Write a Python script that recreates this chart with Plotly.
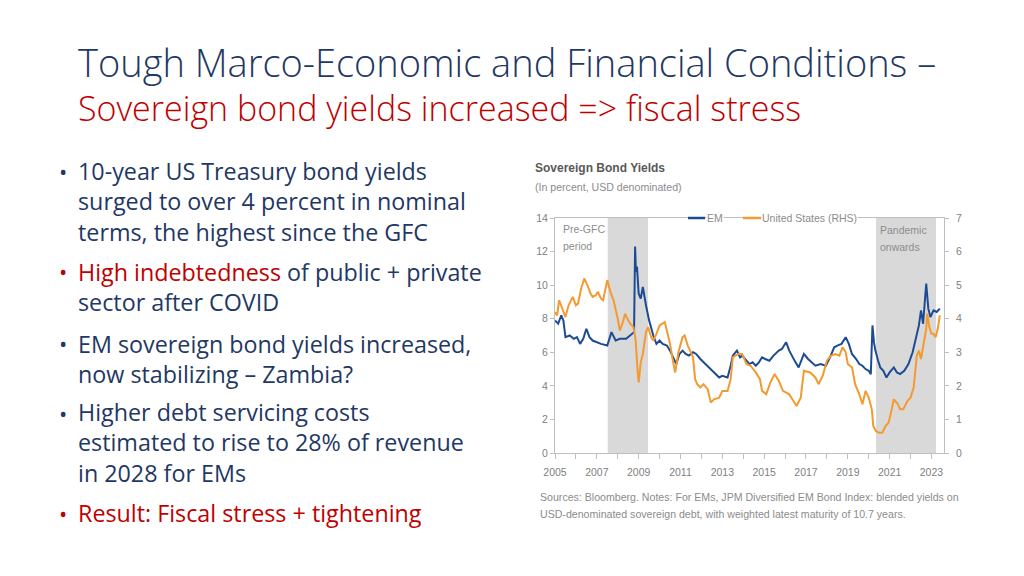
import plotly.graph_objects as go

# ---------------- data ----------------
em_x = [2005.0, 2005.15, 2005.3, 2005.4, 2005.5, 2005.7, 2005.9, 2006.05, 2006.2, 2006.35,
        2006.5, 2006.65, 2006.8, 2007.0, 2007.2, 2007.5, 2007.7, 2007.9, 2008.1, 2008.4,
        2008.65, 2008.78, 2008.83, 2008.87, 2008.92, 2009.0, 2009.1, 2009.2, 2009.35, 2009.5,
        2009.7, 2009.85, 2010.0, 2010.15, 2010.35, 2010.5, 2010.65, 2010.8, 2010.95, 2011.1,
        2011.25, 2011.4, 2011.6, 2011.75, 2011.95, 2012.2, 2012.4, 2012.55, 2012.7, 2012.85,
        2013.0, 2013.25, 2013.4, 2013.5, 2013.7, 2013.85, 2013.95, 2014.1, 2014.3, 2014.45,
        2014.6, 2014.75, 2014.9, 2015.05, 2015.25, 2015.45, 2015.7, 2015.85, 2016.05, 2016.2,
        2016.35, 2016.5, 2016.65, 2016.9, 2017.1, 2017.3, 2017.45, 2017.7, 2017.95, 2018.15,
        2018.35, 2018.5, 2018.7, 2018.9, 2019.05, 2019.2, 2019.4, 2019.55, 2019.7, 2019.85,
        2020.0, 2020.1, 2020.18, 2020.25, 2020.32, 2020.45, 2020.55, 2020.7, 2020.85, 2021.0,
        2021.2, 2021.35, 2021.5, 2021.7, 2021.9, 2022.1, 2022.25, 2022.4, 2022.5, 2022.6,
        2022.75, 2022.85, 2022.95, 2023.1, 2023.25, 2023.4]
em_y = [7.9, 7.7, 8.2, 7.9, 6.9, 7.0, 6.8, 6.9, 6.5, 6.8,
        7.4, 6.9, 6.7, 6.6, 6.5, 6.4, 7.2, 6.7, 6.8, 6.8,
        7.1, 7.2, 12.3, 10.8, 11.1, 9.5, 9.2, 9.9, 8.8, 7.9,
        7.0, 6.5, 6.7, 6.5, 6.4, 6.1, 5.7, 5.3, 5.9, 6.1,
        5.9, 5.8, 6.0, 5.9, 5.6, 5.3, 5.1, 4.9, 4.7, 4.5,
        4.6, 4.5, 5.2, 5.8, 6.1, 5.7, 5.8, 5.6, 5.3, 5.4,
        5.2, 5.4, 5.7, 5.6, 5.5, 5.8, 6.1, 6.2, 6.6, 6.1,
        5.7, 5.4, 5.1, 5.9, 5.6, 5.4, 5.2, 5.3, 5.2, 5.7,
        6.3, 6.4, 6.5, 6.9, 6.5, 5.9, 5.6, 5.3, 5.2, 5.0,
        4.9, 4.7, 7.6, 6.6, 6.1, 5.5, 5.1, 4.9, 4.5, 4.8,
        5.1, 4.8, 4.7, 4.9, 5.3, 6.0, 6.9, 7.6, 8.5, 7.7,
        10.1, 8.6, 8.1, 8.5, 8.4, 8.6]

us_x = [2005.0, 2005.1, 2005.2, 2005.35, 2005.5, 2005.65, 2005.85, 2006.0, 2006.1, 2006.25,
        2006.4, 2006.55, 2006.7, 2006.8, 2006.95, 2007.05, 2007.2, 2007.3, 2007.45, 2007.5,
        2007.65, 2007.8, 2008.0, 2008.1, 2008.25, 2008.35, 2008.5, 2008.6, 2008.75, 2008.85,
        2008.95, 2009.0, 2009.1, 2009.2, 2009.35, 2009.45, 2009.6, 2009.7, 2009.85, 2010.0,
        2010.25, 2010.4, 2010.5, 2010.65, 2010.75, 2010.9, 2011.1, 2011.2, 2011.35, 2011.5,
        2011.6, 2011.7, 2011.8, 2011.95, 2012.1, 2012.3, 2012.45, 2012.6, 2012.85, 2013.0,
        2013.25, 2013.4, 2013.5, 2013.75, 2013.95, 2014.15, 2014.35, 2014.6, 2014.8, 2014.9,
        2015.1, 2015.3, 2015.5, 2015.7, 2015.9, 2016.2, 2016.4, 2016.55, 2016.75, 2016.9,
        2017.2, 2017.45, 2017.6, 2017.8, 2018.0, 2018.2, 2018.4, 2018.6, 2018.75, 2018.9,
        2019.0, 2019.2, 2019.35, 2019.55, 2019.7, 2019.85, 2020.0, 2020.15, 2020.22, 2020.35,
        2020.5, 2020.65, 2020.8, 2020.95, 2021.1, 2021.2, 2021.4, 2021.5, 2021.65, 2021.85,
        2022.0, 2022.15, 2022.3, 2022.4, 2022.5, 2022.6, 2022.75, 2022.8, 2022.9, 2023.0,
        2023.1, 2023.2, 2023.3, 2023.4]
us_y = [4.2, 4.1, 4.55, 4.3, 4.05, 4.4, 4.65, 4.4, 4.45, 4.9,
        5.2, 5.0, 4.75, 4.65, 4.7, 4.8, 4.6, 4.55, 5.05, 5.15,
        4.8, 4.55, 4.0, 3.65, 3.9, 4.15, 3.95, 3.85, 3.75, 3.4,
        2.45, 2.1, 2.7, 2.95, 3.6, 3.75, 3.45, 3.35, 3.55, 3.8,
        3.9, 3.5, 3.25, 2.7, 2.4, 3.0, 3.45, 3.5, 3.2, 3.0,
        2.85, 2.2, 2.05, 1.95, 2.05, 1.9, 1.5, 1.6, 1.65, 1.85,
        1.85, 2.2, 2.85, 2.95, 2.95, 2.65, 2.6, 2.4, 2.2, 1.85,
        1.75, 2.1, 2.35, 2.15, 1.85, 1.75, 1.55, 1.4, 1.65, 2.45,
        2.4, 2.25, 2.05, 2.3, 2.75, 2.9, 2.95, 2.9, 3.15, 3.0,
        2.65, 2.55, 2.05, 1.75, 1.45, 1.85, 1.65, 1.3, 0.8, 0.65,
        0.6, 0.6, 0.8, 0.9, 1.3, 1.6, 1.45, 1.3, 1.3, 1.55,
        1.65, 1.95, 2.9, 3.05, 2.8, 3.15, 3.7, 4.15, 3.75, 3.55,
        3.55, 3.45, 3.7, 4.1]

year_ticks = [2005, 2007, 2009, 2011, 2013, 2015, 2017, 2019, 2021, 2023]
left_ticks = [0, 2, 4, 6, 8, 10, 12, 14]
right_ticks = [0, 1, 2, 3, 4, 5, 6, 7]
shaded_periods = [(2007.52, 2009.45), (2020.35, 2023.22)]

title_line1 = "Tough Marco-Economic and Financial Conditions –"
title_line2 = "Sovereign bond yields increased => fiscal stress"

# ---------------- styling ----------------
# the page body has an 8px margin, so the figure sits at (8, 8) in the window
OFF = 8
W, H = 1024 - 2 * OFF, 576 - 2 * OFF
NAVY = "#1f3864"
RED = "#c00000"
EM_COL = "#1d4b93"
US_COL = "#f39a30"
GREY_TXT = "#7f7f7f"
AXIS_COL = "#bfbfbf"
SLIDE_FONT = "Open Sans"
CH_FONT = "Liberation Sans, Arial"
CH_SIZE = 10.5


def px(x):
    return (x - OFF) / W


def py(y):
    return 1 - (y - OFF) / H


fig = go.Figure()
fig.add_trace(go.Scatter(x=em_x, y=em_y, mode="lines", name="EM",
                         line=dict(color=EM_COL, width=2), yaxis="y"))
fig.add_trace(go.Scatter(x=us_x, y=us_y, mode="lines", name="United States (RHS)",
                         line=dict(color=US_COL, width=2), yaxis="y2"))

shapes = []
for x0, x1 in shaded_periods:
    shapes.append(dict(type="rect", xref="x", yref="y", x0=x0, x1=x1, y0=0, y1=14,
                       fillcolor="#d9d9d9", line=dict(width=0), layer="below"))

annotations = []


def add_text(x, y, text, size, color, family=SLIDE_FONT, weight=None, xanchor="left", bg=None):
    f = dict(family=family, size=size, color=color)
    if weight is not None:
        f["weight"] = weight
    a = dict(xref="paper", yref="paper", x=px(x), y=py(y), text=text, showarrow=False,
             xanchor=xanchor, yanchor="middle", font=f, align="left")
    if bg:
        a["bgcolor"] = bg
        a["borderpad"] = 0
    annotations.append(a)


# slide title (one two-line block: navy heading, red subheading)
add_text(76, 84,
         "<span style='font-size:38px;color:%s'>%s</span><br>%s" % (NAVY, title_line1, title_line2),
         34, RED, weight=300)

# bullets (each paragraph one multi-line text block, y = centre of the block)
r = lambda s: "<span style='color:%s'>%s</span>" % (RED, s)
bullets = [
    (201.5, 171, NAVY, ["10-year US Treasury bond yields", "surged to over 4 percent in nominal",
                        "terms, the highest since the GFC"]),
    (286.5, 271, RED, [r("High indebtedness") + " of public + private", "sector after COVID"]),
    (359, 343, NAVY, ["EM sovereign bond yields increased,", "now stabilizing – Zambia?"]),
    (442.5, 413, NAVY, ["Higher debt servicing costs", "estimated to rise to 28% of revenue",
                        "in 2028 for EMs"]),
    (513, 513, RED, [r("Result: Fiscal stress + tightening")]),
]
for yc, ydot, bcol, lines in bullets:
    add_text(57, ydot, "•", 22, bcol)
    add_text(76, yc, "<br>".join(lines), 23.3, NAVY)

# chart texts
add_text(533, 168, "<b>Sovereign Bond Yields</b>", 12, "#595959", family=CH_FONT)
add_text(533, 187, "(In percent, USD denominated)", 10.6, "#8c8c8c", family=CH_FONT)
add_text(561, 229, "Pre-GFC", CH_SIZE, "#8c8c8c", family=CH_FONT)
add_text(561, 246, "period", CH_SIZE, "#8c8c8c", family=CH_FONT)
add_text(878, 230, "Pandemic", CH_SIZE, "#8c8c8c", family=CH_FONT)
add_text(878, 247, "onwards", CH_SIZE, "#8c8c8c", family=CH_FONT)
add_text(538, 497, "Sources: Bloomberg. Notes: For EMs, JPM Diversified EM Bond Index: blended yields on",
         10.6, "#8c8c8c", family=CH_FONT)
add_text(538, 514, "USD-denominated sovereign debt, with weighted latest maturity of 10.7 years.",
         10.6, "#8c8c8c", family=CH_FONT)

# manual legend
add_text(706, 218, "EM", CH_SIZE, "#8c8c8c", family=CH_FONT, bg="white")
add_text(761, 218, "United States (RHS)", CH_SIZE, "#8c8c8c", family=CH_FONT, bg="white")
shapes.append(dict(type="line", xref="paper", yref="paper", x0=px(688), x1=px(705),
                   y0=py(218), y1=py(218), line=dict(color=EM_COL, width=2.5), layer="above"))
shapes.append(dict(type="line", xref="paper", yref="paper", x0=px(743), x1=px(761),
                   y0=py(218), y1=py(218), line=dict(color=US_COL, width=2.5), layer="above"))

tickfont = dict(family=CH_FONT, size=CH_SIZE, color=GREY_TXT)
fig.update_layout(
    width=W, height=H,
    margin=dict(l=0, r=0, t=0, b=0, autoexpand=False),
    paper_bgcolor="white", plot_bgcolor="white",
    showlegend=False,
    xaxis=dict(domain=[px(555), px(944)], range=[2005, 2023.6], automargin=False,
               tickmode="array", tickvals=year_ticks, ticktext=[str(t) for t in year_ticks],
               ticks="outside", ticklen=5, tickcolor=AXIS_COL,
               minor=dict(tick0=2005, dtick=1, ticks="outside", ticklen=5, tickcolor=AXIS_COL),
               showline=True, linecolor=AXIS_COL, linewidth=1, mirror=True,
               showgrid=False, zeroline=False, tickfont=tickfont, ticklabelstandoff=4),
    yaxis=dict(domain=[py(453), py(218)], range=[0, 14], tickvals=left_ticks, automargin=False,
               ticks="outside", ticklen=4, tickcolor=AXIS_COL,
               showline=True, linecolor=AXIS_COL, linewidth=1,
               showgrid=False, zeroline=False, tickfont=tickfont),
    yaxis2=dict(overlaying="y", side="right", range=[0, 7], tickvals=right_ticks, automargin=False,
                ticks="outside", ticklen=4, tickcolor=AXIS_COL,
                showline=True, linecolor=AXIS_COL, linewidth=1, ticklabelstandoff=5,
                showgrid=False, zeroline=False, tickfont=tickfont),
    shapes=shapes,
    annotations=annotations,
)

fig.write_html("out.html")
